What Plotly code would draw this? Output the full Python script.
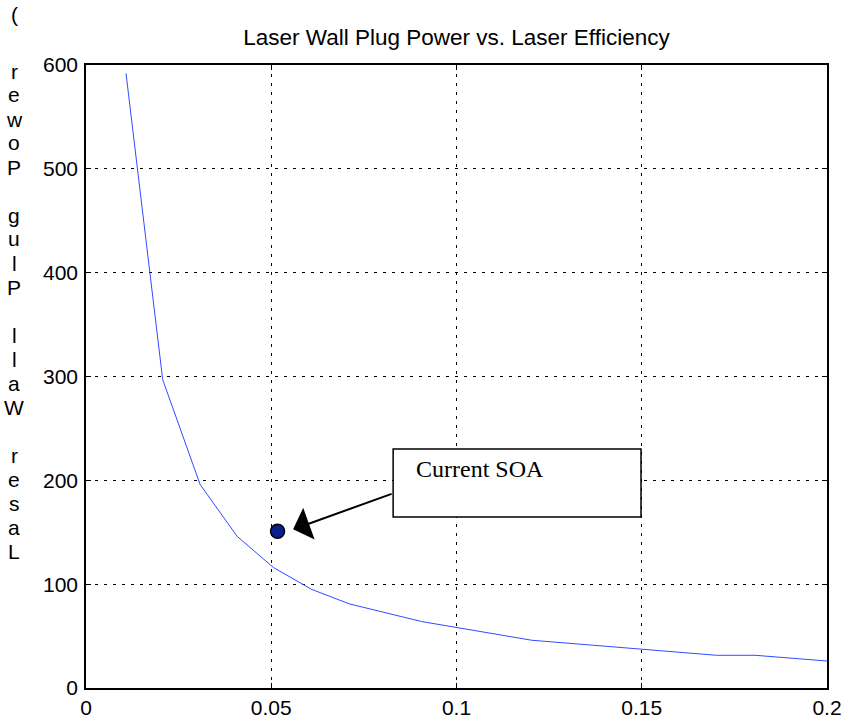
import plotly.graph_objects as go

# Data
efficiency = [0.0108, 0.0207, 0.0308, 0.0408, 0.0506, 0.0609, 0.0711, 0.0906, 0.1203, 0.1702, 0.1806, 0.2]
wall_plug_power = [592, 297, 196, 146, 116, 95, 81, 64, 46, 31.5, 31.5, 26]
soa_eff = [0.0517]
soa_power = [151]
x_ticks = [0, 0.05, 0.1, 0.15, 0.2]
x_ticklabels = ["0", "0.05", "0.1", "0.15", "0.2"]
y_ticks = [0, 100, 200, 300, 400, 500, 600]
y_ticklabels = ["0", "100", "200", "300", "400", "500", "600"]
title_text = "Laser Wall Plug Power vs. Laser Efficiency"
ylabel_text = "Laser Wall Plug Power ("
soa_label = "Current SOA"

W, H = 847, 724
ML, MR, MT, MB = 86, 20, 65, 36
plot_h = H - MT - MB
plot_w = W - ML - MR

fig = go.Figure()
fig.add_trace(go.Scatter(x=efficiency, y=wall_plug_power, mode="lines",
                         line=dict(color="#2F4BFF", width=1), showlegend=False))
fig.add_trace(go.Scatter(x=soa_eff, y=soa_power, mode="markers",
                         marker=dict(size=14, color="#0A1E8C", line=dict(color="black", width=1.5)),
                         showlegend=False))

axis_common = dict(showline=True, linecolor="black", linewidth=1.5, mirror="ticks",
                   ticks="inside", ticklen=5, tickcolor="black", tickwidth=1,
                   showgrid=True, gridcolor="black", gridwidth=1, griddash="3px,6px",
                   zeroline=False, automargin=False, ticklabeloverflow="allow",
                   tickfont=dict(family="Liberation Sans, Arial", size=21, color="black"))

fig.update_xaxes(range=[0, 0.2], tickvals=x_ticks, ticktext=x_ticklabels, **axis_common)
fig.update_yaxes(range=[0, 600], tickvals=y_ticks, ticktext=y_ticklabels, ticklabelstandoff=2, **axis_common)

# Box with text and arrow
fig.add_shape(type="rect", xref="x", yref="y", x0=0.0829, x1=0.1498, y0=164.7, y1=230.2,
              line=dict(color="black", width=1.5), fillcolor="white", layer="above")
fig.add_annotation(x=0.0885, y=211, xref="x", yref="y", text=soa_label, showarrow=False,
                   xanchor="left", yanchor="middle",
                   font=dict(family="Liberation Serif, Times New Roman", size=24, color="black"))
fig.add_annotation(x=0.0559, y=152.8, xref="x", yref="y", ax=0.0829, ay=187.5,
                   axref="x", ayref="y", text="", showarrow=True, arrowhead=1,
                   arrowsize=2.8, arrowwidth=2, arrowcolor="black", standoff=0)

# Stacked y label characters (reversed, upright)
chars = list(reversed(ylabel_text))
pitch = 24.0
base0 = 30.0
for i, ch in enumerate(chars):
    if ch == " ":
        continue
    py = base0 + i * pitch - 7
    if ch == "(":
        py -= 8
    yp = 1 - (py - MT) / plot_h
    fig.add_annotation(x=(14 - ML) / plot_w, xref="paper", y=yp, yref="paper", text=ch,
                       showarrow=False, xanchor="center", yanchor="middle",
                       font=dict(family="Liberation Sans, Arial", size=21, color="black"))

fig.update_layout(
    width=W, height=H,
    margin=dict(l=ML, r=MR, t=MT, b=MB),
    paper_bgcolor="white", plot_bgcolor="white",
    title=dict(text=title_text, x=456.5 / W, xanchor="center",
               y=1 - 37 / H, yanchor="middle",
               font=dict(family="Liberation Sans, Arial", size=22.5, color="black")),
)

fig.write_html("out.html")
